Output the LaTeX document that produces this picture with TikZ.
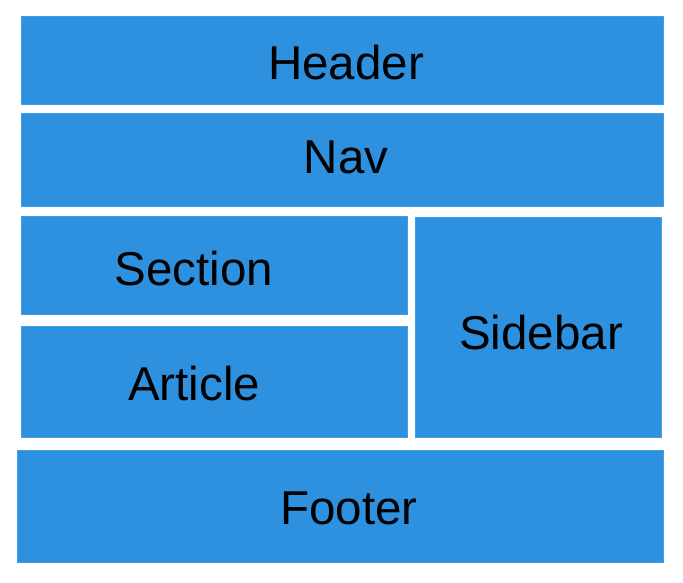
\documentclass[tikz,border=0pt]{standalone}
\usepackage{fontspec}
\setmainfont{Liberation Sans}
\definecolor{boxblue}{RGB}{45,145,224}
\definecolor{edgeblue}{RGB}{62,158,232}
\begin{document}
\begin{tikzpicture}[x=1bp,y=-1bp, blk/.style={fill=boxblue,draw=edgeblue,line width=1bp},
	lbl/.style={font=\fontsize{47.5bp}{56bp}\selectfont,text=black,inner sep=0pt}]
	\useasboundingbox (0,0) rectangle (683,583);
	% boxes
	\draw[blk] (21,17) rectangle (663,105);
	\draw[blk] (21,114) rectangle (663,206);
	\draw[blk] (21,216) rectangle (407,314);
	\draw[blk] (21,326) rectangle (407,437);
	\draw[blk] (415,217) rectangle (661,437);
	\draw[blk] (17,450) rectangle (663,562);
	% labels
	\node[lbl] (hdr) at (346,63) {Header};
	\node[lbl] (nav) at (346,157) {Nav};
	\node[lbl] (sec) at (194,269) {Section};
	\node[lbl] (art) at (194,384) {Article};
	\node[lbl] (side) at (541,333) {Sidebar};
	\node[lbl] (foot) at (349,508) {Footer};
\end{tikzpicture}
\end{document}
